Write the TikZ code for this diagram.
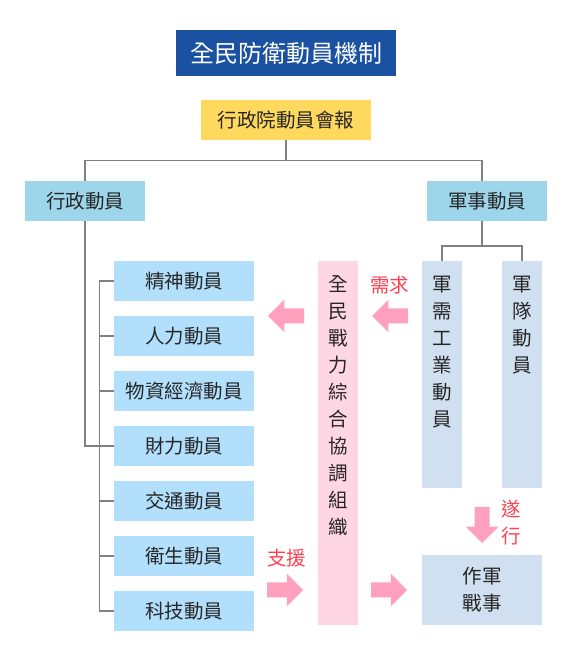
\documentclass[tikz,border=0pt]{standalone}
\usepackage{fontspec}
\setmainfont{Noto Sans CJK TC}
\usetikzlibrary{positioning}
\usetikzlibrary{shapes.arrows}
\definecolor{titleblue}{RGB}{27,81,161}
\definecolor{xzyellow}{RGB}{255,216,94}
\definecolor{mainblue}{RGB}{157,214,234}
\definecolor{subblue}{RGB}{178,223,251}
\definecolor{milblue}{RGB}{208,224,240}
\definecolor{pinkbg}{RGB}{255,214,228}
\definecolor{arrowpink}{RGB}{255,160,190}
\definecolor{notered}{RGB}{255,64,80}
\definecolor{linegray}{RGB}{128,128,128}

\begin{document}
\begin{tikzpicture}[x=1pt,y=1pt,node distance=15pt,line width=1.5pt,
  box/.style={fill=#1,text=black!85,minimum width=120pt,minimum height=40pt,inner sep=0pt,outer sep=0pt,align=center,font=\fontsize{19.5}{27}\selectfont},
  sub/.style={box=subblue,minimum width=140pt},
  colbox/.style={fill=#1,minimum width=40pt,inner sep=0pt,outer sep=0pt},
  vtext/.style={align=center,inner sep=0pt,outer sep=0pt,text=black!85,font=\fontsize{19.5}{27}\selectfont},
  blockarrow/.style={single arrow,fill=arrowpink,minimum height=36pt,inner xsep=0pt,inner ysep=6.75pt,outer sep=0pt,single arrow head extend=8.75pt,anchor=tip},
  note/.style={text=notered,inner sep=0pt,align=center,font=\fontsize{19.5}{27}\selectfont}]
  \useasboundingbox (0,0) rectangle (572,660);
  \node[fill=titleblue,text=white,minimum width=220pt,minimum height=46pt,inner sep=0pt,outer sep=0pt,font=\fontsize{24}{28}\selectfont](quanmin) at (286,607) {全民防衛動員機制};
  \node[box=xzyellow,minimum width=170pt,below=24pt of quanmin](xingzhengyuan) {行政院動員會報};
  \node[box=mainblue](xingzheng) at (85,459) {行政動員};
  \node[box=mainblue](junshi) at (487,459) {軍事動員};
  \node[sub](jingshen) at (184,379) {精神動員};
  \node[sub,below= of jingshen](renli) {人力動員};
  \node[sub,below= of renli](wuzi) {物資經濟動員};
  \node[sub,below= of wuzi](caili) {財力動員};
  \node[sub,below= of caili](jiaotong) {交通動員};
  \node[sub,below= of jiaotong](weisheng) {衛生動員};
  \node[sub,below= of weisheng](keji) {科技動員};
  \node[colbox=pinkbg,minimum height=364pt](zhanli) at (338,217) {};
  \node[colbox=milblue,minimum height=227pt](junxu) at (442,285.5) {};
  \node[colbox=milblue,minimum height=227pt](jundui) at (522,285.5) {};
  \node[box=milblue,minimum height=70pt](zuozhan) at (482,70) {作軍\\戰事};
  \node[vtext,below=15pt of zhanli.north](zhanlitext) {全\\民\\戰\\力\\綜\\合\\協\\調\\組\\織};
  \node[vtext,below=15pt of junxu.north](junxutext) {軍\\需\\工\\業\\動\\員};
  \node[vtext,below=15pt of jundui.north](junduitext) {軍\\隊\\動\\員};
  \node[blockarrow,rotate=180](toxingzheng) at (268,344) {};
  \node[blockarrow,rotate=180](fromjunxu) at (372,344) {};
  \node[blockarrow](fromxingzheng) at (303,70) {};
  \node[blockarrow](tozuozhan) at (407,70) {};
  \node[blockarrow,rotate=270](suixing) at (482,117) {};
  \node[note](xuqiu) at (389.7,375) {需求};
  \node[note](zhiyuan) at (286.5,102) {支援};
  \node[note](suixinglabel) at (511.5,137.5) {遂\\行};
  \draw[linegray] (xingzhengyuan.south) -- ++(0,-20.3) coordinate(fork);
  \draw[linegray] (xingzheng.north) |- (fork) -| ([xshift=-5pt]junshi.north);
  \draw[linegray] ([xshift=-5pt]junshi.south) -- ++(0,-25) coordinate(milfork);
  \draw[linegray] (junxu.north) |- (milfork) -| (jundui.north);
  \draw[linegray] (xingzheng.south) |- (caili.west);
  \draw[linegray] (jingshen.west) -- ++(-14.7,0) |- (keji.west);
  \foreach \n in {renli,wuzi,jiaotong,weisheng}
    \draw[linegray] (\n.west) -- ++(-14.7,0);
\end{tikzpicture}
\end{document}
